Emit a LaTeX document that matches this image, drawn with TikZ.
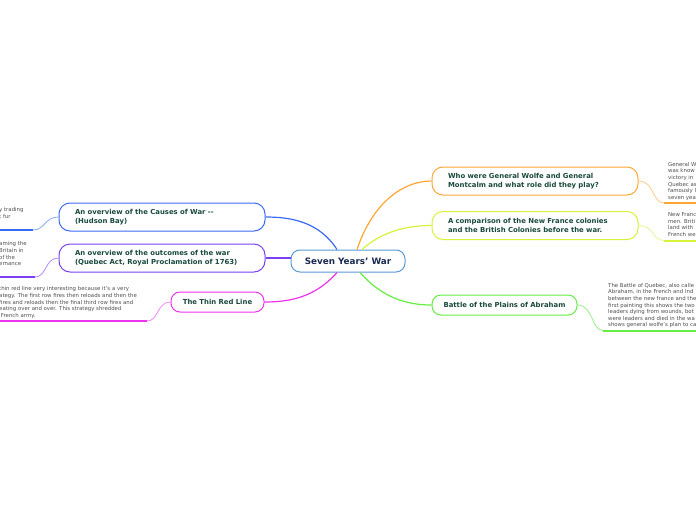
\documentclass[tikz,border=0pt]{standalone}
\usepackage{fontspec}
\setmainfont{DejaVu Sans}
\definecolor{cblue}{HTML}{3A6BF5}
\definecolor{cpurple}{HTML}{7B3FF2}
\definecolor{cmag}{HTML}{EE33EE}
\definecolor{corange}{HTML}{FFA733}
\definecolor{cyellow}{HTML}{D8F23A}
\definecolor{cgreen}{HTML}{66EE44}
\definecolor{lblue}{HTML}{88AAFF}
\definecolor{lpurple}{HTML}{B08CFF}
\definecolor{lmag}{HTML}{F28CF2}
\definecolor{lorange}{HTML}{FFCC88}
\definecolor{lyellow}{HTML}{E8F590}
\definecolor{lgreen}{HTML}{99F088}
\definecolor{cborder}{HTML}{5B9BD5}
\definecolor{nodetext}{HTML}{1A4A3C}
\definecolor{centertext}{HTML}{1A2A50}
\definecolor{leaftext}{HTML}{505050}
\begin{document}
\begin{tikzpicture}[x=1pt,y=-1pt,
  branch/.style={draw, line width=1pt, rounded corners=11pt, fill=white,
    font=\fontsize{6.9}{8.8}\selectfont\bfseries, text=nodetext,
    inner xsep=16pt, inner ysep=0pt, minimum height=28pt},
  smallbranch/.style={branch, align=center, minimum height=20pt, rounded corners=9pt, inner xsep=4pt},
  leaf/.style={font=\fontsize{5.4}{6.6}\selectfont, text=leaftext, align=left, inner sep=0pt},
  conn/.style={line width=1.2pt},
  leafconn/.style={line width=0.8pt},
  uline/.style={line width=2pt}]
\useasboundingbox (0,0) rectangle (696,520);
\clip (0,0) rectangle (696,520);
\fill[white] (0,0) rectangle (696,520);

% central node
\node[draw=cborder, line width=1pt, rounded corners=9pt, fill=white, minimum width=114pt, minimum height=22pt,
  font=\fontsize{8.8}{10}\selectfont\bfseries, text=centertext] (c) at (348,261) {Seven Years' War};

% branch nodes
\node[branch, draw=corange, text width=174pt, align=left] (o) at (535,181)
  {Who were General Wolfe and General\\Montcalm and what role did they play?};
\node[branch, draw=cyellow, text width=174pt, align=left] (y) at (535,225.5)
  {A comparison of the New France colonies\\and the British Colonies before the war.};
\node[smallbranch, draw=cgreen, text width=137pt] (g) at (504.5,305)
  {Battle of the Plains of Abraham};
\node[branch, draw=cblue, text width=174pt, align=left] (b) at (162,217)
  {An overview of the Causes of War {-}{-}\\(Hudson Bay)};
\node[branch, draw=cpurple, text width=174pt, align=left] (p) at (162,258)
  {An overview of the outcomes of the war\\(Quebec Act, Royal Proclamation of 1763)};
\node[smallbranch, draw=cmag, text width=85pt] (m) at (217.5,302)
  {The Thin Red Line};

% main connectors
\draw[conn, cblue] ([xshift=-11pt]c.north) .. controls +(-18,-28) and +(25,0) .. (b.east);
\draw[conn, corange] ([xshift=9pt]c.north) .. controls +(15,-45) and +(-30,0) .. (o.west);
\draw[conn, cyellow] ([xshift=14pt]c.north) .. controls +(20,-18) and +(-25,0) .. (y.west);
\draw[conn, cgreen] ([xshift=12pt]c.south) .. controls +(22,25) and +(-25,0) .. (g.west);
\draw[conn, cpurple] ([yshift=3pt]c.west) .. controls +(-10,0) and +(10,0) .. (p.east);
\draw[conn, cmag] ([xshift=-11pt]c.south) .. controls +(-22,25) and +(25,0) .. (m.east);

% leaf anchors
\coordinate (ou) at (664,203); \coordinate (oe) at (700,203);
\coordinate (yu) at (664,240.5); \coordinate (ye) at (700,240.5);
\coordinate (gu) at (603,330.5); \coordinate (ge) at (700,330.5);
\coordinate (bu) at (33,230); \coordinate (be) at (-4,230);
\coordinate (pu) at (35,277); \coordinate (pe) at (-4,277);
\coordinate (mu) at (147,321); \coordinate (me) at (-4,321);

% leaf connectors
\draw[leafconn, lorange] (o.east) .. controls +(16,0) and +(-12,0) .. (ou);
\draw[uline, corange] (ou) -- (oe);
\draw[leafconn, lyellow] (y.east) .. controls +(16,0) and +(-12,0) .. (yu);
\draw[uline, cyellow] (yu) -- (ye);
\draw[leafconn, lgreen] (g.east) .. controls +(16,0) and +(-12,0) .. (gu);
\draw[uline, cgreen] (gu) -- (ge);
\draw[leafconn, lblue] (b.west) .. controls +(-14,0) and +(12,0) .. (bu);
\draw[uline, cblue] (bu) -- (be);
\draw[leafconn, lpurple] (p.west) .. controls +(-14,0) and +(12,0) .. (pu);
\draw[uline, cpurple] (pu) -- (pe);
\draw[leafconn, lmag] (m.west) .. controls +(-14,0) and +(12,0) .. (mu);
\draw[uline, cmag] (mu) -- (me);

% leaf texts
\node[leaf, anchor=north west] (ot) at (668,162)
  {General W\\was know\\victory in\\Quebec as\\famously l\\seven yea};
\node[leaf, anchor=north west] (yt) at (668,212.5)
  {New Franc\\men. Briti\\land with\\French we};
\node[leaf, anchor=north west] (gt) at (608,283)
  {The Battle of Quebec, also calle\\Abraham, in the French and Ind\\between the new france and the\\first painting this shows the two\\leaders dying from wounds, bot\\were leaders and died in the wa\\shows general wolfe's plan to ca};
\node[leaf, anchor=north west] (bt) at (-1,207.5)
  {y trading\\t fur};
\node[leaf, anchor=north west] (pt) at (-1,241.5)
  {aming the\\Britain in\\of the\\ernance};
\node[leaf, anchor=north west] (mt) at (-1,286.5)
  {thin red line very interesting because it's a very\\ategy. The first row fires then reloads and then the\\fires and reloads then the final third row fires and\\eating over and over. This strategy shredded\\\ French army.};
\end{tikzpicture}
\end{document}
